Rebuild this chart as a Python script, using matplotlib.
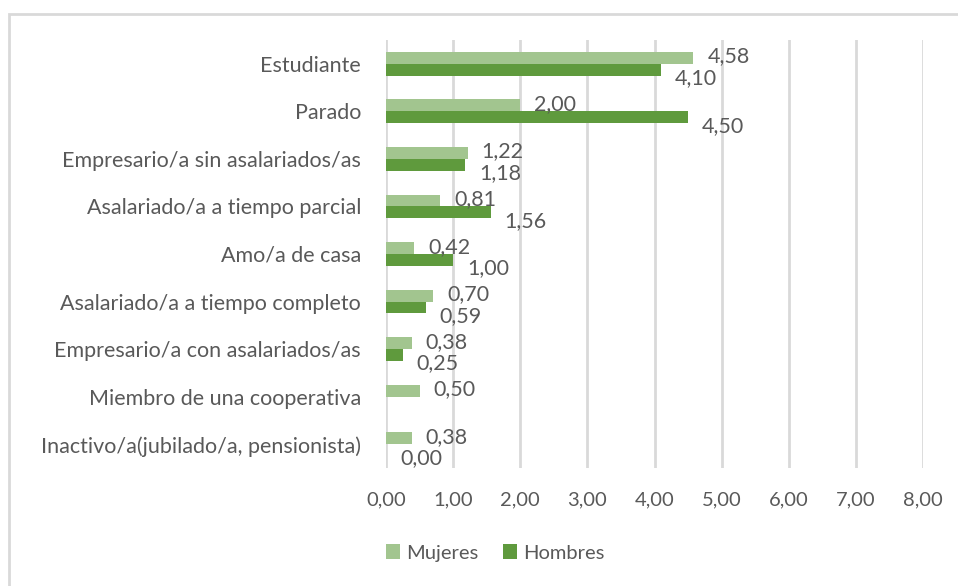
import matplotlib.pyplot as plt
from matplotlib.patches import Rectangle
import numpy as np

plt.rcParams['font.family'] = ['Lato', 'DejaVu Sans']

categorias = ['Estudiante', 'Parado', 'Empresario/a sin asalariados/as',
              'Asalariado/a a tiempo parcial', 'Amo/a de casa',
              'Asalariado/a a tiempo completo', 'Empresario/a con asalariados/as',
              'Miembro de una cooperativa', 'Inactivo/a(jubilado/a, pensionista)']
mujeres = [4.58, 2.00, 1.22, 0.81, 0.42, 0.70, 0.38, 0.50, 0.38]
hombres = [4.10, 4.50, 1.18, 1.56, 1.00, 0.59, 0.25, None, 0.00]
ticks = [0, 1, 2, 3, 4, 5, 6, 7, 8]

c_muj = '#A2C58F'
c_hom = '#5F9A3D'
gris = '#595959'


def fmt(v):
    return f'{v:.2f}'.replace('.', ',')


fig = plt.figure(figsize=(9.58, 5.86), dpi=100)
ax = fig.add_axes([386/958, 1 - 468/586, (923 - 386)/958, (468 - 40)/586])

y = np.arange(len(categorias))
h = 0.25
ax.barh(y - h/2, mujeres, height=h, color=c_muj, label='Mujeres', zorder=3)
hom_vals = [v if v is not None else 0 for v in hombres]
ax.barh(y + h/2, hom_vals, height=h, color=c_hom, label='Hombres', zorder=3)

for i, (m, hv) in enumerate(zip(mujeres, hombres)):
    ax.annotate(fmt(m), (m, i - h/2), xytext=(10, 1), textcoords='offset points',
                ha='left', va='center', fontsize=15.5, color=gris)
    if hv is not None:
        ax.annotate(fmt(hv), (hv, i + h/2), xytext=(10, -6), textcoords='offset points',
                    ha='left', va='center', fontsize=15.5, color=gris)

ax.set_ylim(len(categorias) - 0.5, -0.5)
ax.set_xlim(0, 8)
ax.set_xticks(ticks)
ax.set_xticklabels([fmt(t) for t in ticks], fontsize=14.5, color=gris)
ax.set_yticks(y)
ax.set_yticklabels(categorias, fontsize=15.5, color=gris)
ax.tick_params(axis='both', length=0)
ax.tick_params(axis='y', pad=18)
ax.tick_params(axis='x', pad=17)
ax.grid(axis='x', color='#D9D9D9', linewidth=2, zorder=0)
for s in ax.spines.values():
    s.set_visible(False)

fig.legend(loc='center', bbox_to_anchor=(495/958, 1 - 553/586), ncol=2, frameon=False,
           fontsize=14.5, handlelength=0.7, handleheight=0.7, handletextpad=0.3,
           columnspacing=1.2, labelcolor=gris)

fig.patches.append(Rectangle((9/958, -0.1), 1.1, 1 - 14/586 + 0.1, transform=fig.transFigure,
                             fill=False, edgecolor='#D9D9D9', linewidth=2))

fig.savefig('out.png', dpi=100)
